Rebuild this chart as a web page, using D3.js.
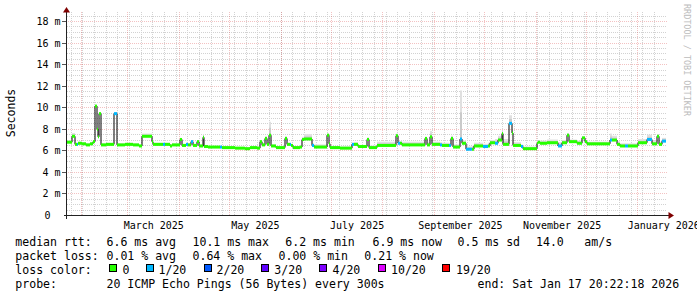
<!DOCTYPE html>
<html lang="en">
<head>
<meta charset="utf-8">
<title>SmokePing latency</title>
<script src="https://d3js.org/d3.v7.min.js"></script>
<style>
  body { margin: 0; background: #fff; }
  svg { display: block; font-family: "DejaVu Sans Mono", monospace; }
</style>
</head>
<body>
<div id="chart"></div>
<script>
    // ---- data ----
    // days after start of graph window, median rtt (ms), highest ping (ms), loss level index
    var dayOffset = [0, 3.6, 5.1, 6.3, 7.2, 9.6, 12, 14.4, 16.2, 17.4, 18.4, 19, 19.9, 21.2, 24, 29, 30.4, 35.4, 40.2, 43.8,
        45.6, 51.3, 52.2, 58.2, 59.4, 62.4, 63.6, 68.4, 69.3, 72, 73.2, 75, 76.2, 78.6, 79.8, 81.9, 82.8, 85.2, 92.4, 93.6,
        101.4, 107.4, 110.4, 114.6, 116.4, 117.6, 119.4, 120.6, 121.8, 123, 126, 131.4, 132.6, 134.4, 135, 136.2, 140.4, 141.6, 142.8, 147.6,
        148.8, 156.6, 157.5, 158.4, 164.4, 171.6, 172.8, 175.2, 180.6, 181.8, 186.6, 198.3, 199.2, 200.4, 201.6, 215.4, 216.6, 218.4, 219.6, 224.4,
        225.6, 229.8, 231, 232.2, 236.4, 237.6, 240, 243.6, 244.8, 250.2, 253.2, 254.4, 257.4, 259.2, 261.3, 262.2, 265.8, 267.6, 268.2, 273,
        274.2, 282.6, 283.2, 284.4, 288.6, 295.2, 297.6, 300.6, 301.8, 306.6, 309.6, 311.4, 312.8, 326.4, 327.6, 330.6, 332.4, 335.4, 337.2, 343.2,
        348.6, 351.6, 354.6, 355.8, 357.8]
    var medianMs = [6.8, 7.35, 6.6, 6.6, 6.7, 6.65, 6.55, 6.65, 6.85, 10.15, 8.0, 7.3, 9.45, 6.55, 6.6, 9.45, 6.55, 6.6, 6.55, 6.45,
        7.35, 6.85, 6.6, 6.6, 6.6, 6.45, 6.55, 7.05, 6.5, 6.6, 6.55, 6.85, 6.5, 6.85, 6.45, 7.25, 6.4, 6.35, 6.35, 6.3,
        6.25, 6.2, 6.3, 6.25, 6.85, 6.55, 7.15, 6.6, 7.45, 6.45, 6.3, 7.15, 6.6, 6.6, 6.5, 6.3, 6.35, 7.05, 7.1, 6.5,
        6.35, 7.45, 6.65, 6.3, 6.25, 6.6, 6.6, 6.4, 7.05, 6.3, 6.5, 7.4, 6.7, 6.7, 6.55, 7.15, 6.55, 7.3, 6.6, 6.55,
        6.5, 6.5, 7.15, 6.35, 7.1, 6.7, 6.15, 6.15, 6.45, 6.4, 6.45, 6.75, 6.7, 7.0, 7.6, 6.6, 8.55, 7.65, 6.5, 6.4,
        6.2, 6.7, 6.8, 6.7, 6.75, 6.45, 6.75, 7.45, 6.85, 6.7, 7.2, 6.85, 6.65, 7.0, 7.0, 6.6, 6.45, 6.45, 6.45, 6.75,
        7.05, 6.65, 7.35, 6.6, 6.9]
    var smokeMaxMs = [6.95, 7.65, 6.75, 6.75, 6.85, 6.8, 6.7, 6.8, 7.0, 10.25, 8.1, 7.45, 9.55, 6.7, 6.75, 9.55, 6.7, 6.75, 6.7, 6.6,
        7.6, 7.0, 6.75, 6.75, 6.75, 6.6, 6.7, 7.2, 6.65, 6.75, 6.7, 7.0, 6.65, 7.0, 6.6, 7.55, 6.55, 6.45, 6.45, 6.4,
        6.35, 6.35, 6.4, 6.4, 7.0, 6.7, 7.35, 6.8, 8.7, 6.6, 6.45, 7.35, 6.75, 6.75, 6.65, 6.45, 6.5, 7.3, 7.55, 6.7,
        6.6, 7.6, 6.8, 6.45, 6.4, 6.75, 6.8, 6.55, 7.25, 6.5, 6.85, 7.6, 6.9, 6.9, 6.85, 7.3, 6.85, 7.85, 6.85, 6.8,
        6.75, 6.7, 7.4, 6.6, 11.6, 6.95, 6.4, 6.45, 6.75, 6.65, 6.75, 7.0, 7.1, 7.4, 7.9, 7.1, 9.3, 8.0, 6.8, 6.6,
        6.4, 6.9, 7.0, 6.95, 7.05, 6.8, 7.0, 7.65, 7.05, 6.95, 7.35, 7.0, 6.85, 7.6, 7.4, 6.9, 6.7, 6.7, 6.7, 7.1,
        7.5, 6.95, 7.55, 6.85, 7.2]
    var lossLevel = [0, 0, 0, 1, 0, 0, 0, 0, 0, 0, 0, 0, 0, 0, 0, 1, 0, 0, 0, 0,
        0, 0, 0, 1, 0, 0, 0, 0, 0, 1, 0, 1, 0, 0, 0, 0, 0, 0, 1, 0,
        0, 0, 0, 0, 0, 0, 0, 0, 0, 0, 0, 0, 0, 1, 0, 0, 0, 0, 0, 1,
        0, 0, 0, 0, 0, 1, 0, 0, 0, 0, 0, 0, 1, 0, 0, 0, 0, 0, 0, 1,
        0, 1, 0, 0, 1, 0, 1, 0, 0, 1, 0, 0, 1, 0, 0, 0, 1, 0, 0, 1,
        0, 0, 0, 0, 0, 1, 0, 0, 0, 0, 0, 0, 0, 1, 0, 0, 0, 1, 0, 0,
        1, 0, 0, 0, 1]

    // loss legend
    var lossLabels = ["0", "1/20", "2/20", "3/20", "4/20", "10/20", "19/20"]
    var lossColors = ["#26ff00", "#00b8ff", "#0059ff", "#5e00ff", "#7e00ff", "#dd00ff", "#ff0000"]

    // y tick labels (ms) and x labels
    var yTicks = [0, 2, 4, 6, 8, 10, 12, 14, 16, 18]
    var xLabelText = ["March 2025", "May 2025", "July 2025", "September 2025", "November 2025", "January 2026"]
    var xLabelMonth = ["2025-03-01", "2025-05-01", "2025-07-01", "2025-09-01", "2025-11-01", "2026-01-01"]

    // legend text
    var rttText = ["6.6 ms avg", "10.1 ms max", "6.2 ms min", "6.9 ms now", "0.5 ms sd", "14.0", "am/s"]
    var lossText = ["0.01 % avg", "0.64 % max", "0.00 % min", "0.21 % now"]
    var probeText = "20 ICMP Echo Pings (56 Bytes) every 300s"
    var endText = "end: Sat Jan 17 20:22:18 2026"

    // ---- layout ----
    var W = 697, H = 297
    var plotTop = 12, plotLeft = 66, plotRight = 666

    var endTime = new Date(Date.UTC(2026, 0, 17, 20, 22, 18))
    var startTime = new Date(endTime.getTime() - 360 * 864e5)
    function dayToDate(d) { return new Date(startTime.getTime() + d * 864e5) }

    var x = d3.scaleUtc().domain([startTime, endTime]).range([plotLeft, plotRight])
    var y = d3.scaleLinear().domain([0, 18]).range([215.5, 21.5])
    var crisp = function (v) { return Math.floor(v) + 0.5 }

    var svg = d3.select("#chart").append("svg")
        .attr("width", W).attr("height", H)
        .attr("viewBox", "0 0 " + W + " " + H)

    // grid: minor
    var grid = svg.append("g")
    var minorY = d3.range(0.5, 18.51, 0.5).filter(function (v) { return v % 2 !== 0 })
    grid.selectAll(".hminor").data(minorY).enter().append("line")
        .attr("x1", plotLeft + 1).attr("x2", plotRight + 1)
        .attr("y1", function (d) { return crisp(y(d)) }).attr("y2", function (d) { return crisp(y(d)) })
        .attr("stroke", "#d2d2d2").attr("stroke-dasharray", "1,1")

    var weeks = d3.utcSunday.range(startTime, endTime)
    grid.selectAll(".vminor").data(weeks).enter().append("line")
        .attr("x1", function (d) { return crisp(x(d)) }).attr("x2", function (d) { return crisp(x(d)) })
        .attr("y1", plotTop).attr("y2", 215)
        .attr("stroke", "#d2d2d2").attr("stroke-dasharray", "1,1")

    // grid: major
    var majorY = yTicks.filter(function (v) { return v > 0 })
    grid.selectAll(".hmajor").data(majorY).enter().append("line")
        .attr("x1", 62).attr("x2", plotRight + 1)
        .attr("y1", function (d) { return crisp(y(d)) }).attr("y2", function (d) { return crisp(y(d)) })
        .attr("stroke", "rgba(222,80,80,0.35)").attr("stroke-dasharray", "1,1")

    var months = d3.utcMonth.range(startTime, endTime)
    grid.selectAll(".vmajor").data(months).enter().append("line")
        .attr("x1", function (d) { return crisp(x(d)) }).attr("x2", function (d) { return crisp(x(d)) })
        .attr("y1", plotTop).attr("y2", 215)
        .attr("stroke", "rgba(222,80,80,0.35)").attr("stroke-dasharray", "1,1")

    // segments for step data
    var segs = dayOffset.map(function (d, i) {
        return {
            x0: Math.round(x(dayToDate(d))),
            x1: Math.round(x(dayToDate(i + 1 < dayOffset.length ? dayOffset[i + 1] : 360))),
            med: medianMs[i], top: smokeMaxMs[i], loss: lossLevel[i]
        }
    })

    // smoke
    var smoke = svg.append("g")
    smoke.selectAll(".outer").data(segs).enter().append("rect")
        .attr("x", function (d) { return d.x0 }).attr("width", function (d) { return Math.max(1, d.x1 - d.x0) })
        .attr("y", function (d) { return y(d.top) })
        .attr("height", function (d) { return Math.max(0, y(d.med) - y(d.top)) })
        .attr("fill", "#e0e0e0")
    smoke.selectAll(".inner").data(segs).enter().append("rect")
        .attr("x", function (d) { return d.x0 }).attr("width", function (d) { return Math.max(1, d.x1 - d.x0) })
        .attr("y", function (d) { return y(d.med + (d.top - d.med) * 0.55) })
        .attr("height", function (d) { return Math.max(0, y(d.med) - y(d.med + (d.top - d.med) * 0.55)) })
        .attr("fill", "#cacaca")

    // median line (black steps)
    var pts = segs.map(function (s) { return [s.x0, y(s.med)] })
    pts.push([segs[segs.length - 1].x1, y(medianMs[medianMs.length - 1])])
    svg.append("path")
        .attr("d", d3.line().curve(d3.curveStepAfter)(pts))
        .attr("fill", "none").attr("stroke", "#000").attr("stroke-width", 1)

    // loss coloured median band
    svg.append("g").selectAll("rect").data(segs).enter().append("rect")
        .attr("x", function (d) { return d.x0 }).attr("width", function (d) { return Math.max(1, d.x1 - d.x0) })
        .attr("y", function (d) { return y(d.med) - 1.5 }).attr("height", 3)
        .attr("fill", function (d) { return lossColors[d.loss] })

    // axes
    var axis = svg.append("g")
    axis.append("line").attr("x1", 66.5).attr("x2", 66.5).attr("y1", plotTop).attr("y2", 219)
        .attr("stroke", "#222")
    axis.append("line").attr("x1", 64).attr("x2", 669).attr("y1", 215.5).attr("y2", 215.5)
        .attr("stroke", "#222")
    axis.append("path").attr("d", "M66.5,7L63,12.5L70,12.5Z").attr("fill", "#7f0000")
    axis.append("path").attr("d", "M674,215.5L668.5,212L668.5,219Z").attr("fill", "#7f0000")

    axis.selectAll(".ytick").data(majorY).enter().append("line")
        .attr("x1", 62).attr("x2", 66)
        .attr("y1", function (d) { return crisp(y(d)) }).attr("y2", function (d) { return crisp(y(d)) })
        .attr("stroke", "#555")

    // y labels
    svg.append("g").selectAll("text").data(yTicks).enter().append("text")
        .attr("x", function (d) { return d === 0 ? 50.5 : 60.5 })
        .attr("y", function (d) { return y(d) + 3.5 })
        .attr("text-anchor", "end").attr("font-size", "10px").attr("fill", "#000")
        .text(function (d) { return d === 0 ? "0" : d + " m" })

    // x labels (centered mid-month)
    svg.append("g").selectAll("text").data(xLabelText).enter().append("text")
        .attr("x", function (d, i) { return x(new Date(Date.parse(xLabelMonth[i]) + 15.5 * 864e5)) })
        .attr("y", 228.5)
        .attr("text-anchor", "middle").attr("font-size", "10px").attr("fill", "#000")
        .text(function (d) { return d })

    // axis title
    svg.append("text").attr("transform", "translate(15,113) rotate(-90)")
        .attr("text-anchor", "middle").attr("font-size", "11.5px").attr("fill", "#000")
        .text("Seconds")

    // watermark
    svg.append("text").attr("transform", "translate(684,4) rotate(90)")
        .attr("font-size", "9px").attr("fill", "#bcbcbc")
        .attr("textLength", 112).attr("lengthAdjust", "spacingAndGlyphs")
        .text("RRDTOOL / TOBI OETIKER")

    // legend
    var legend = svg.append("g").attr("font-size", "11.55px").attr("fill", "#000")
    var rowY = [245.5, 259.5, 273.5, 287.5]
    var rttX = [106.5, 192.5, 285.3, 372.5, 457.5, 536, 584.3]
    var lossX = [106.5, 192.5, 278.5, 364.3]
    var swatchX = [109.5, 146.5, 204.5, 261.5, 319.5, 378.5, 442.5]
    var swatchTextX = [122.5, 158.5, 216.5, 274.3, 332.5, 391, 456]

    legend.append("text").attr("x", 15.3).attr("y", rowY[0]).text("median rtt:")
    legend.append("text").attr("x", 15.3).attr("y", rowY[1]).text("packet loss:")
    legend.append("text").attr("x", 15.3).attr("y", rowY[2]).text("loss color:")
    legend.append("text").attr("x", 15.3).attr("y", rowY[3]).text("probe:")

    legend.selectAll(".rtt").data(rttText).enter().append("text")
        .attr("x", function (d, i) { return rttX[i] }).attr("y", rowY[0]).text(function (d) { return d })
    legend.selectAll(".loss").data(lossText).enter().append("text")
        .attr("x", function (d, i) { return lossX[i] }).attr("y", rowY[1]).text(function (d) { return d })

    legend.selectAll(".sw").data(lossColors).enter().append("rect")
        .attr("x", function (d, i) { return swatchX[i] }).attr("y", 264.5)
        .attr("width", 7).attr("height", 7)
        .attr("fill", function (d) { return d }).attr("stroke", "#000")
    legend.selectAll(".swt").data(lossLabels).enter().append("text")
        .attr("x", function (d, i) { return swatchTextX[i] }).attr("y", rowY[2]).text(function (d) { return d })

    legend.append("text").attr("x", 106.5).attr("y", rowY[3]).text(probeText)
    legend.append("text").attr("x", 477.5).attr("y", rowY[3]).text(endText)
</script>
</body>
</html>
